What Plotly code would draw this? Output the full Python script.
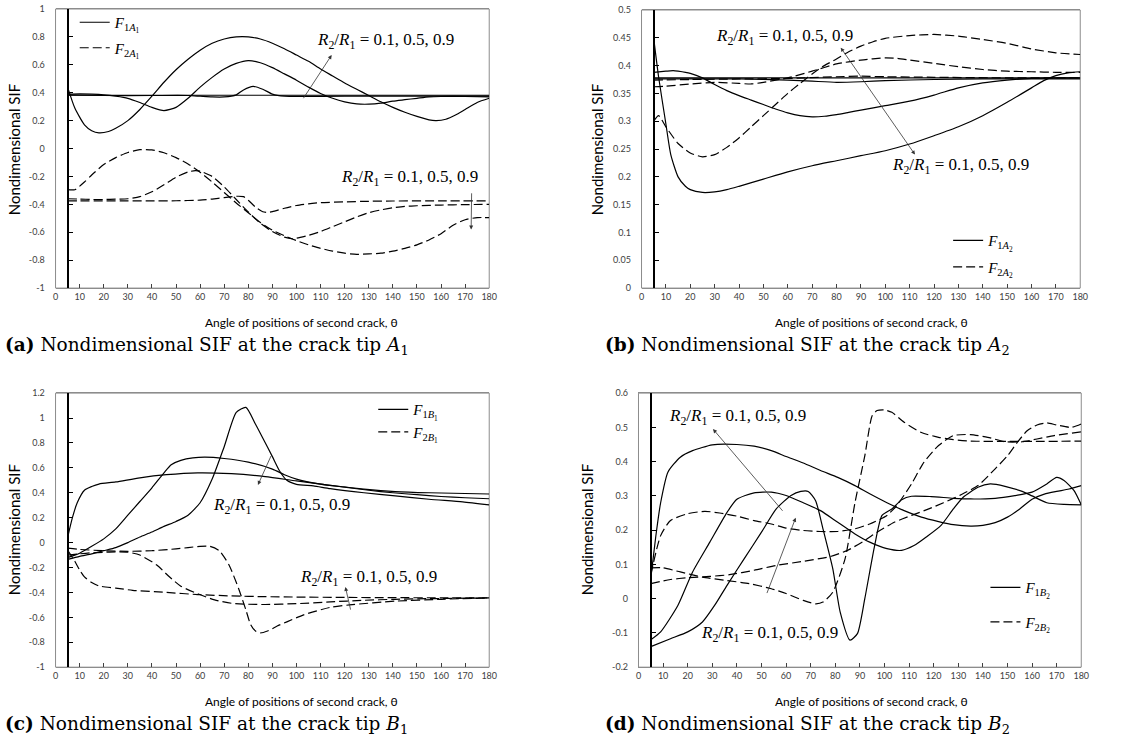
import plotly.graph_objects as go

W, H = 1147, 747
# empirical screen mapping (screen = A + S * figure pixel)
AX, SXF = 7.9, 0.982
AY, SYF = 6.0, 0.985

# ---------------- DATA ----------------
X_TICKS = list(range(0, 181, 10))
X_TICKTEXT = [str(v) for v in X_TICKS]

# panel (a): crack tip A1
A_YTICKS = [1, 0.8, 0.6, 0.4, 0.2, 0, -0.2, -0.4, -0.6, -0.8, -1]
A_YTEXT = ["1", "0.8", "0.6", "0.4", "0.2", "0", "-0.2", "-0.4", "-0.6", "-0.8", "-1"]
A_F1_09_T = [5, 8, 12, 15, 18, 22, 25, 30, 35, 40, 45, 50, 55, 60, 65, 70, 75, 80, 85, 90, 95, 100, 105, 110, 115, 120, 125, 130, 135, 140, 145, 150, 155, 158, 162, 166, 170, 175, 180]
A_F1_09_V = [0.44, 0.29, 0.17, 0.128, 0.112, 0.122, 0.145, 0.2, 0.28, 0.375, 0.475, 0.565, 0.64, 0.705, 0.755, 0.785, 0.8, 0.8, 0.785, 0.755, 0.715, 0.67, 0.625, 0.57, 0.52, 0.47, 0.425, 0.38, 0.335, 0.295, 0.26, 0.23, 0.205, 0.2, 0.21, 0.24, 0.28, 0.33, 0.36]
A_F1_05_T = [5, 10, 15, 20, 25, 30, 35, 40, 45, 50, 55, 60, 65, 70, 75, 80, 85, 90, 95, 100, 105, 110, 115, 120, 125, 130, 135, 140, 145, 150, 155, 160, 170, 180]
A_F1_05_V = [0.39, 0.392, 0.39, 0.385, 0.375, 0.36, 0.33, 0.295, 0.272, 0.295, 0.36, 0.44, 0.51, 0.57, 0.61, 0.63, 0.615, 0.58, 0.535, 0.49, 0.44, 0.395, 0.36, 0.335, 0.32, 0.318, 0.325, 0.34, 0.35, 0.36, 0.37, 0.373, 0.373, 0.37]
A_F1_01_T = [5, 20, 40, 55, 60, 65, 70, 75, 78, 82, 86, 90, 95, 100, 120, 150, 180]
A_F1_01_V = [0.385, 0.38, 0.38, 0.38, 0.375, 0.37, 0.37, 0.385, 0.42, 0.445, 0.425, 0.39, 0.375, 0.374, 0.375, 0.375, 0.375]
A_F1_REF_T = [5, 180]
A_F1_REF_V = [0.382, 0.382]
A_F2_09_T = [5, 8, 12, 15, 20, 25, 30, 35, 40, 45, 50, 55, 60, 65, 70, 75, 80, 85, 90, 95, 100, 105, 110, 115, 120, 125, 130, 135, 140, 145, 150, 155, 160, 165, 170, 175, 180]
A_F2_09_V = [-0.295, -0.295, -0.24, -0.19, -0.115, -0.065, -0.028, -0.008, -0.01, -0.03, -0.065, -0.11, -0.17, -0.24, -0.315, -0.39, -0.46, -0.53, -0.585, -0.625, -0.66, -0.69, -0.715, -0.735, -0.75, -0.758, -0.755, -0.75, -0.735, -0.715, -0.69, -0.655, -0.61, -0.55, -0.51, -0.495, -0.495]
A_F2_05_T = [5, 10, 15, 20, 25, 30, 35, 40, 45, 50, 55, 58, 60, 65, 70, 75, 80, 85, 90, 95, 98, 100, 105, 110, 115, 120, 125, 130, 135, 140, 145, 150, 160, 170, 180]
A_F2_05_V = [-0.36, -0.362, -0.365, -0.365, -0.363, -0.36, -0.345, -0.31, -0.26, -0.205, -0.168, -0.158, -0.162, -0.2, -0.275, -0.365, -0.455, -0.535, -0.595, -0.635, -0.646, -0.642, -0.622, -0.595, -0.56, -0.525, -0.49, -0.46, -0.44, -0.425, -0.415, -0.41, -0.405, -0.402, -0.4]
A_F2_01_T = [5, 10, 20, 30, 40, 50, 60, 65, 70, 75, 78, 80, 83, 86, 88, 90, 95, 100, 105, 110, 120, 130, 140, 160, 180]
A_F2_01_V = [-0.375, -0.375, -0.375, -0.375, -0.375, -0.374, -0.37, -0.362, -0.352, -0.342, -0.345, -0.37, -0.42, -0.453, -0.458, -0.452, -0.428, -0.408, -0.396, -0.388, -0.382, -0.378, -0.376, -0.375, -0.375]

# panel (b): crack tip A2
B_YTICKS = [0.5, 0.45, 0.4, 0.35, 0.3, 0.25, 0.2, 0.15, 0.1, 0.05, 0]
B_YTEXT = ["0.5", "0.45", "0.4", "0.35", "0.3", "0.25", "0.2", "0.15", "0.1", "0.05", "0"]
B_F1_09_T = [5, 7, 10, 12, 15, 18, 20, 25, 30, 35, 40, 50, 60, 70, 80, 90, 100, 110, 120, 130, 140, 150, 160, 165, 170, 175, 180]
B_F1_09_V = [0.449, 0.38, 0.295, 0.24, 0.2, 0.183, 0.177, 0.172, 0.173, 0.177, 0.183, 0.196, 0.209, 0.22, 0.229, 0.238, 0.247, 0.259, 0.274, 0.29, 0.31, 0.334, 0.36, 0.373, 0.382, 0.387, 0.389]
B_F1_05_T = [5, 10, 13, 15, 20, 25, 30, 35, 40, 45, 50, 55, 60, 65, 70, 75, 80, 85, 90, 100, 110, 120, 130, 140, 150, 160, 170, 180]
B_F1_05_V = [0.388, 0.39, 0.391, 0.39, 0.386, 0.378, 0.366, 0.355, 0.346, 0.338, 0.33, 0.322, 0.315, 0.31, 0.308, 0.309, 0.312, 0.316, 0.32, 0.328, 0.336, 0.347, 0.36, 0.369, 0.374, 0.377, 0.378, 0.378]
B_F1_01_T = [5, 20, 40, 60, 70, 80, 90, 100, 120, 140, 180]
B_F1_01_V = [0.376, 0.376, 0.376, 0.374, 0.372, 0.37, 0.371, 0.373, 0.375, 0.376, 0.376]
B_F1_REF_T = [5, 180]
B_F1_REF_V = [0.378, 0.378]
B_F2_09_T = [5, 7, 10, 15, 20, 25, 30, 35, 40, 45, 50, 55, 60, 65, 70, 75, 80, 85, 90, 95, 100, 110, 120, 130, 140, 150, 160, 170, 180]
B_F2_09_V = [0.3, 0.31, 0.29, 0.26, 0.243, 0.236, 0.24, 0.253, 0.27, 0.29, 0.31, 0.33, 0.35, 0.368, 0.385, 0.4, 0.412, 0.425, 0.435, 0.443, 0.449, 0.454, 0.456, 0.453, 0.447, 0.44, 0.43, 0.423, 0.42]
B_F2_05_T = [5, 10, 20, 30, 40, 45, 50, 60, 70, 80, 90, 100, 105, 110, 120, 130, 140, 150, 160, 170, 180]
B_F2_05_V = [0.362, 0.363, 0.367, 0.37, 0.368, 0.367, 0.37, 0.378, 0.39, 0.403, 0.41, 0.414, 0.413, 0.41, 0.404, 0.398, 0.393, 0.39, 0.389, 0.388, 0.388]
B_F2_01_T = [5, 20, 40, 60, 80, 90, 100, 120, 150, 180]
B_F2_01_V = [0.374, 0.375, 0.376, 0.377, 0.38, 0.381, 0.38, 0.379, 0.378, 0.378]

# panel (c): crack tip B1
C_YTICKS = [1.2, 1, 0.8, 0.6, 0.4, 0.2, 0, -0.2, -0.4, -0.6, -0.8, -1]
C_YTEXT = ["1.2", "1", "0.8", "0.6", "0.4", "0.2", "0", "-0.2", "-0.4", "-0.6", "-0.8", "-1"]
C_F1_P_T = [5, 10, 15, 20, 25, 30, 35, 40, 45, 50, 55, 60, 65, 70, 75, 79, 83, 86, 90, 93, 96, 100, 107, 114, 128, 141, 155, 169, 180]
C_F1_P_V = [-0.135, -0.11, -0.09, -0.065, -0.04, 0.0, 0.045, 0.085, 0.13, 0.17, 0.22, 0.32, 0.51, 0.77, 1.045, 1.085, 0.95, 0.84, 0.69, 0.575, 0.5, 0.468, 0.455, 0.433, 0.4, 0.375, 0.348, 0.327, 0.303]
C_F1_Q_T = [5, 7, 9, 12, 15, 18, 25, 35, 46, 59, 73, 87, 100, 114, 128, 141, 155, 180]
C_F1_Q_V = [0.04, 0.2, 0.32, 0.42, 0.45, 0.47, 0.487, 0.52, 0.545, 0.56, 0.553, 0.53, 0.495, 0.46, 0.43, 0.41, 0.4, 0.39]
C_F1_R_T = [5, 10, 15, 20, 25, 30, 35, 40, 45, 48, 52, 57, 62, 70, 80, 90, 95, 100, 110, 120, 130, 140, 150, 160, 170, 180]
C_F1_R_V = [-0.12, -0.085, -0.03, 0.03, 0.11, 0.22, 0.33, 0.44, 0.56, 0.625, 0.66, 0.68, 0.686, 0.675, 0.646, 0.59, 0.545, 0.51, 0.47, 0.445, 0.42, 0.4, 0.385, 0.37, 0.36, 0.352]
C_F2_A_T = [5, 10, 20, 30, 40, 50, 55, 60, 64, 68, 72, 76, 79, 81, 83, 85, 88, 92, 96, 103, 114, 122, 141, 160, 180]
C_F2_A_V = [-0.045, -0.055, -0.065, -0.07, -0.065, -0.05, -0.04, -0.03, -0.03, -0.065, -0.18, -0.37, -0.54, -0.66, -0.71, -0.725, -0.71, -0.67, -0.636, -0.58, -0.52, -0.5, -0.47, -0.455, -0.444]
C_F2_B_T = [5, 8, 10, 12, 15, 18, 25, 32, 46, 59, 73, 87, 100, 120, 140, 160, 180]
C_F2_B_V = [-0.06, -0.15, -0.22, -0.275, -0.32, -0.348, -0.365, -0.383, -0.4, -0.417, -0.428, -0.434, -0.437, -0.44, -0.442, -0.443, -0.444]
C_F2_C_T = [5, 10, 15, 20, 25, 30, 35, 42, 47, 52, 59, 66, 73, 80, 87, 100, 114, 128, 141, 155, 180]
C_F2_C_V = [-0.1, -0.09, -0.082, -0.078, -0.075, -0.077, -0.1, -0.18, -0.27, -0.35, -0.41, -0.46, -0.487, -0.495, -0.497, -0.49, -0.476, -0.463, -0.455, -0.45, -0.444]

# panel (d): crack tip B2
D_YTICKS = [0.6, 0.5, 0.4, 0.3, 0.2, 0.1, 0, -0.1, -0.2]
D_YTEXT = ["0.6", "0.5", "0.4", "0.3", "0.2", "0.1", "0", "-0.1", "-0.2"]
D_F1_A_T = [5, 7, 9, 12, 17, 22, 30, 40, 47, 54, 60, 67, 74, 81, 88, 94, 101, 108, 115, 122, 128, 135, 140, 145, 150, 155, 160, 165, 170, 175, 180]
D_F1_A_V = [0.06, 0.18, 0.28, 0.37, 0.413, 0.432, 0.449, 0.45, 0.445, 0.432, 0.415, 0.396, 0.374, 0.354, 0.33, 0.306, 0.28, 0.257, 0.238, 0.225, 0.216, 0.212, 0.214, 0.222, 0.238, 0.262, 0.29, 0.305, 0.313, 0.32, 0.33]
D_F1_B_T = [5, 9, 16, 22, 29, 36, 40, 47, 54, 60, 67, 74, 81, 88, 94, 101, 107, 112, 117, 123, 128, 132, 138, 143, 149, 156, 160, 166, 173, 180]
D_F1_B_V = [-0.12, -0.097, -0.02, 0.078, 0.165, 0.252, 0.29, 0.309, 0.311, 0.301, 0.28, 0.257, 0.223, 0.189, 0.165, 0.146, 0.141, 0.155, 0.18, 0.214, 0.262, 0.296, 0.325, 0.335, 0.328, 0.313, 0.3, 0.28, 0.275, 0.274]
D_F1_C_T = [5, 13, 20, 26, 31, 36, 43, 50, 56, 62, 66, 69, 72, 75, 79, 82, 86, 89, 92, 96, 99, 103, 107, 111, 119, 128, 135, 145, 153, 160, 166, 170, 173, 177, 180]
D_F1_C_V = [-0.14, -0.117, -0.097, -0.068, -0.019, 0.039, 0.117, 0.194, 0.262, 0.301, 0.313, 0.313, 0.286, 0.204, 0.087, -0.039, -0.121, -0.102, 0.0, 0.155, 0.243, 0.262, 0.289, 0.299, 0.298, 0.293, 0.291, 0.293, 0.301, 0.311, 0.335, 0.354, 0.345, 0.316, 0.274]
D_F2_X_T = [5, 10, 17, 26, 36, 45, 54, 60, 67, 72, 75, 79, 84, 88, 92, 95, 97, 100, 103, 108, 115, 122, 128, 135, 150, 165, 180]
D_F2_X_V = [0.09, 0.09, 0.078, 0.063, 0.053, 0.044, 0.029, 0.015, -0.005, -0.015, -0.01, 0.019, 0.117, 0.28, 0.417, 0.534, 0.549, 0.551, 0.544, 0.515, 0.485, 0.471, 0.464, 0.46, 0.459, 0.459, 0.46]
D_F2_Y_T = [5, 13, 20, 29, 37, 47, 56, 67, 78, 85, 92, 97, 104, 111, 118, 124, 131, 138, 145, 150, 154, 158, 162, 166, 170, 176, 180]
D_F2_Y_V = [0.044, 0.056, 0.061, 0.065, 0.07, 0.083, 0.097, 0.109, 0.123, 0.141, 0.17, 0.194, 0.223, 0.243, 0.262, 0.28, 0.303, 0.33, 0.379, 0.417, 0.456, 0.49, 0.507, 0.513, 0.507, 0.5, 0.51]
D_F2_Z_T = [5, 9, 13, 20, 27, 33, 40, 47, 54, 60, 67, 74, 81, 88, 94, 101, 105, 111, 116, 122, 128, 135, 142, 149, 156, 162, 169, 180]
D_F2_Z_V = [0.07, 0.184, 0.228, 0.248, 0.255, 0.25, 0.241, 0.228, 0.218, 0.206, 0.199, 0.196, 0.196, 0.204, 0.218, 0.243, 0.272, 0.335, 0.398, 0.447, 0.476, 0.479, 0.471, 0.458, 0.458, 0.466, 0.476, 0.487]

RATIO_TEXT = "<i>R</i><sub>2</sub>/<i>R</i><sub>1</sub> = 0.1, 0.5, 0.9"
X_TITLE = "Angle of positions of second crack, \u03b8"
Y_TITLE = "Nondimensional SIF"
CAPTIONS = [
    "<b>(a)</b> Nondimensional SIF at the crack tip <i>A</i><sub>1</sub>",
    "<b>(b)</b> Nondimensional SIF at the crack tip <i>A</i><sub>2</sub>",
    "<b>(c)</b> Nondimensional SIF at the crack tip <i>B</i><sub>1</sub>",
    "<b>(d)</b> Nondimensional SIF at the crack tip <i>B</i><sub>2</sub>",
]
LEG_NAMES = [
    ("<i>F</i><sub>1<i>A</i><sub>1</sub></sub>", "<i>F</i><sub>2<i>A</i><sub>1</sub></sub>"),
    ("<i>F</i><sub>1<i>A</i><sub>2</sub></sub>", "<i>F</i><sub>2<i>A</i><sub>2</sub></sub>"),
    ("<i>F</i><sub>1<i>B</i><sub>1</sub></sub>", "<i>F</i><sub>2<i>B</i><sub>1</sub></sub>"),
    ("<i>F</i><sub>1<i>B</i><sub>2</sub></sub>", "<i>F</i><sub>2<i>B</i><sub>2</sub></sub>"),
]

# ---------------- LAYOUT HELPERS (screen pixels -> paper) ----------------
def px(p):
    return min(max((p - AX) / SXF / W, 0), 1)


def py(p):
    return min(max(1 - (p - AY) / SYF / H, 0), 1)

# panel boxes in screen pixels: (left, right, top, bottom)
BOX = {
    1: (60, 490, 9, 288),
    2: (641, 1076, 10, 288),
    3: (60, 490, 393, 667),
    4: (638, 1077, 393, 667),
}
YR = {1: (-1, 1), 2: (0, 0.5), 3: (-1, 1.2), 4: (-0.2, 0.6)}
YT = {1: (A_YTICKS, A_YTEXT), 2: (B_YTICKS, B_YTEXT), 3: (C_YTICKS, C_YTEXT), 4: (D_YTICKS, D_YTEXT)}

TICKFONT = dict(family="Lato, Liberation Sans", size=9, color="#404040")
BOXCOL = "#8c8c8c"
SOLID = dict(color="black", width=1.2)
DASHED = dict(color="black", width=1.2, dash="9px,4px")

fig = go.Figure()

SERIES = {
    1: ([(A_F1_09_T, A_F1_09_V), (A_F1_05_T, A_F1_05_V), (A_F1_01_T, A_F1_01_V), (A_F1_REF_T, A_F1_REF_V)],
        [(A_F2_09_T, A_F2_09_V), (A_F2_05_T, A_F2_05_V), (A_F2_01_T, A_F2_01_V)]),
    2: ([(B_F1_09_T, B_F1_09_V), (B_F1_05_T, B_F1_05_V), (B_F1_01_T, B_F1_01_V), (B_F1_REF_T, B_F1_REF_V)],
        [(B_F2_09_T, B_F2_09_V), (B_F2_05_T, B_F2_05_V), (B_F2_01_T, B_F2_01_V)]),
    3: ([(C_F1_P_T, C_F1_P_V), (C_F1_Q_T, C_F1_Q_V), (C_F1_R_T, C_F1_R_V)],
        [(C_F2_A_T, C_F2_A_V), (C_F2_B_T, C_F2_B_V), (C_F2_C_T, C_F2_C_V)]),
    4: ([(D_F1_A_T, D_F1_A_V), (D_F1_B_T, D_F1_B_V), (D_F1_C_T, D_F1_C_V)],
        [(D_F2_X_T, D_F2_X_V), (D_F2_Y_T, D_F2_Y_V), (D_F2_Z_T, D_F2_Z_V)]),
}
LEGKEY = {1: "legend", 2: "legend2", 3: "legend3", 4: "legend4"}

for k in range(1, 5):
    sfx = "" if k == 1 else str(k)
    solids, dashes = SERIES[k]
    for group, style, nm, gi in ((solids, SOLID, LEG_NAMES[k - 1][0], "s"), (dashes, DASHED, LEG_NAMES[k - 1][1], "d")):
        for i, (t, v) in enumerate(group):
            fig.add_trace(go.Scatter(
                x=t, y=v, mode="lines", line=dict(**style, shape="spline", smoothing=0.6),
                name=nm, showlegend=(i == 0), legend=LEGKEY[k], legendgroup=f"{k}{gi}",
                xaxis="x" + sfx, yaxis="y" + sfx, hoverinfo="skip"))

layout = dict(width=W, height=H, margin=dict(l=0, r=0, t=0, b=0),
              paper_bgcolor="white", plot_bgcolor="white", showlegend=True)

shapes = []
for k in range(1, 5):
    sfx = "" if k == 1 else str(k)
    l, r, t, b = BOX[k]
    layout["xaxis" + sfx] = dict(
        domain=[px(l), px(r)], range=[0, 180], anchor="y" + sfx,
        tickvals=X_TICKS, ticktext=X_TICKTEXT, ticks="inside", ticklen=4, tickcolor="#404040",
        showline=True, mirror=True, linecolor=BOXCOL, linewidth=1,
        showgrid=False, zeroline=False, tickfont=TICKFONT, fixedrange=True)
    tv, tt = YT[k]
    # the value axis crosses the angle axis at theta = 5
    xd0, xd1 = px(l), px(r)
    layout["yaxis" + sfx] = dict(
        domain=[py(b), py(t)], range=list(YR[k]), anchor="free",
        position=xd0 + 5 / 180 * (xd1 - xd0), side="left",
        tickvals=tv, ticktext=tt, ticks="inside", ticklen=4, tickcolor="black",
        ticklabelstandoff=20,
        showline=True, linecolor="black", linewidth=2,
        showgrid=False, zeroline=False, tickfont=TICKFONT, fixedrange=True)
    shapes.append(dict(type="rect", xref="x" + sfx + " domain", yref="y" + sfx + " domain",
                       x0=0, x1=1, y0=0, y1=1, line=dict(color=BOXCOL, width=1), layer="below"))

# legends: (screen x of legend, screen y of legend top, group gap)
LEGPOS = {1: (79, 5, 3), 2: (945, 224, 4), 3: (375, 393, 0), 4: (982, 571, 12)}
for k in range(1, 5):
    x0, y0, gap = LEGPOS[k]
    layout[LEGKEY[k]] = dict(x=px(x0), y=py(y0), xanchor="left", yanchor="top",
                             bgcolor="rgba(0,0,0,0)", borderwidth=0,
                             font=dict(family="Liberation Serif", size=15, color="black"),
                             traceorder="grouped", tracegroupgap=gap)

layout["shapes"] = shapes
fig.update_layout(**layout)

ann = []
ANNFONT = dict(family="Liberation Serif", size=17, color="black")
ARROW = dict(showarrow=True, arrowhead=2, arrowsize=1, arrowwidth=0.8, arrowcolor="#333333", text="")

def dax(k):
    return ("x" if k == 1 else "x" + str(k)), ("y" if k == 1 else "y" + str(k))

# ratio labels (data coords) and arrows (tail -> head)
LABELS = {1: [(137, 0.77), (147, -0.21)], 2: [(58.8, 0.452), (130.9, 0.22)],
          3: [(93.7, 0.295), (129.9, -0.282)], 4: [(40.4, 0.531), (53.3, -0.102)]}
ARROWS = {1: [((102.5, 0.35), (114.6, 0.67), "end"), ((172.7, -0.31), (172.5, -0.58), "end")],
          2: [((81.3, 0.435), (112.2, 0.24), "end+start")],
          3: [((89.7, 0.707), (84, 0.463), "end"), ((122.6, -0.55), (120.3, -0.356), "end")],
          4: [((59.1, 0.252), (30.3, 0.495), "end"), ((52, 0.012), (63.9, 0.236), "end")]}
for k in range(1, 5):
    xr, yr = dax(k)
    for (lx, ly) in LABELS[k]:
        ann.append(dict(x=lx, y=ly, xref=xr, yref=yr, text=RATIO_TEXT, showarrow=False,
                        xanchor="center", yanchor="middle", font=ANNFONT))
    for (tail, head, side) in ARROWS[k]:
        ann.append(dict(x=head[0], y=head[1], ax=tail[0], ay=tail[1], xref=xr, yref=yr,
                        axref=xr, ayref=yr, arrowside=side, **ARROW))

TITLEFONT = dict(family="Lato, Liberation Sans", size=12, color="black")
YT_X = {1: 19, 2: 597, 3: 19, 4: 587}
YT_Y = {1: 150, 2: 150, 3: 530, 4: 530}
XT_X = {1: 304, 2: 869, 3: 304, 4: 869}
CAP_X = {1: 6, 2: 603, 3: 6, 4: 603}
for k in range(1, 5):
    l, r, t, b = BOX[k]
    ann.append(dict(x=px(YT_X[k]), y=py(YT_Y[k]), xref="paper", yref="paper", text=Y_TITLE,
                    textangle=-90, showarrow=False, xanchor="center", yanchor="middle",
                    font=dict(family="Lato, Liberation Sans", size=15, color="black")))
    ann.append(dict(x=px(XT_X[k]), y=py(b + 34), xref="paper", yref="paper", text=X_TITLE,
                    showarrow=False, xanchor="center", yanchor="middle", font=TITLEFONT))
    ann.append(dict(x=px(CAP_X[k]), y=py(b + 58), xref="paper", yref="paper", text=CAPTIONS[k - 1],
                    xanchor="left", yanchor="middle", showarrow=False,
                    font=dict(family="DejaVu Serif", size=18.5, color="black")))

fig.update_layout(annotations=ann)
fig.write_html("out.html", config={"displayModeBar": False, "staticPlot": True},
               post_script="document.body.style.margin='0px';")
